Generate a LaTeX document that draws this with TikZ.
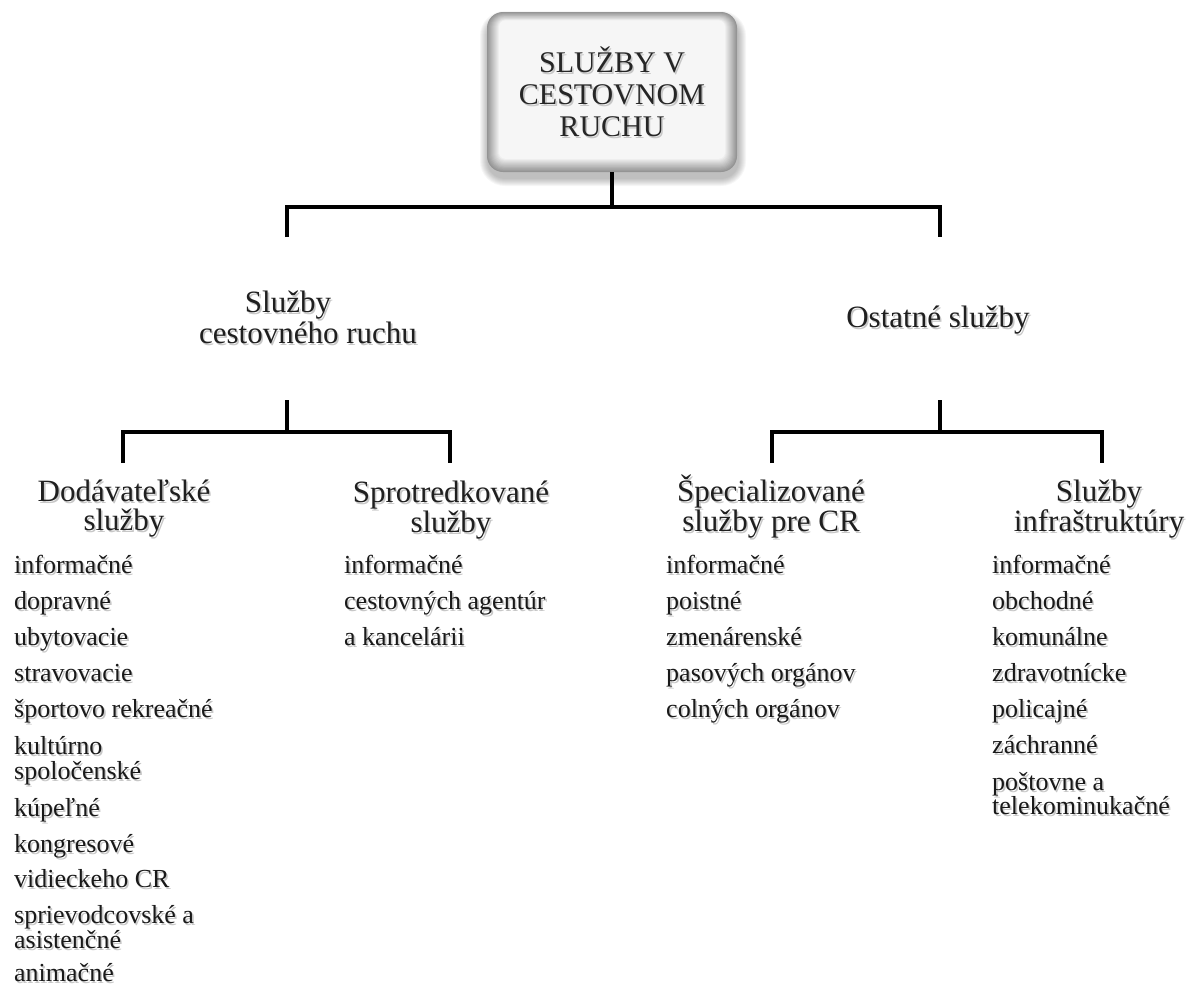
\documentclass[tikz,border=0pt]{standalone}
\usepackage{fontspec}
\setmainfont{Liberation Serif}
% two stacked lines with a fixed baseline distance; the first line is the baseline
\newcommand\stackleft[3]{\vtop{\baselineskip=#1\lineskiplimit=-100pt\lineskip=0pt
  \halign{##\hfil\cr #2\cr #3\cr}}}
\newcommand\stackmid[3]{\vtop{\baselineskip=#1\lineskiplimit=-100pt\lineskip=0pt
  \halign{\hfil##\hfil\cr #2\cr #3\cr}}}
\begin{document}
\begin{tikzpicture}[x=1pt,y=-1pt,
  conn/.style={line width=4pt, black},
  titletext/.style={font=\fontsize{30}{33}\selectfont, anchor=base, inner sep=0pt, text=black!85},
  headtext/.style={font=\fontsize{31}{31}\selectfont, anchor=base, inner sep=0pt, text=black!88},
  itemtext/.style={font=\fontsize{26}{24}\selectfont, anchor=base west, inner sep=0pt, text=black!90}]
\useasboundingbox (0,0) rectangle (1203,988);

% text with a soft grey drop shadow
\newcommand\shtext[4]{%
  \node[#3, text=black!22, xshift=1.6pt, yshift=-2pt] at #2 {#4};
  \node[#3] (#1) at #2 {#4};}

% ---- root box: soft shadow, bevelled grey frame, white face
\foreach \i in {0,...,7}{
  \pgfmathsetmacro\r{18+\i}
  \fill[black, opacity=0.035, rounded corners=\r pt]
    (487-\i,18-\i) rectangle (739+\i,179+\i);
}
\foreach \i in {0,...,12}{
  \pgfmathsetmacro\c{42-3.2*\i}
  \pgfmathsetmacro\r{16-0.8*\i}
  \fill[black!\c!white, rounded corners=\r pt]
    (487+\i,12+0.7*\i) rectangle (737-\i,172-1.1*\i);
}
\node[minimum width=250pt, minimum height=160pt, inner sep=0pt] (root) at (612,92) {};
\shtext{t1}{(612,72)}{titletext}{SLUŽBY V}
\shtext{t2}{(612,104)}{titletext}{CESTOVNOM}
\shtext{t3}{(612,136)}{titletext}{RUCHU}

% ---- first level connectors
\coordinate (hub0) at (612,207);
\coordinate (a1) at (287,237);
\coordinate (a2) at (940,237);
\draw[conn] (root.south) -- (hub0);
\draw[conn] (a1) -- (a1 |- hub0) -- (a2 |- hub0) -- (a2);

% ---- first level labels
\shtext{h1a}{(288,312)}{headtext}{Služby}
\shtext{h1b}{(308,343)}{headtext}{cestovného ruchu}
\shtext{h2}{(938,327)}{headtext}{Ostatné služby}

% ---- second level connectors
\coordinate (b0) at (287,400);
\coordinate (hubL) at (287,432);
\coordinate (b1) at (123,463);
\coordinate (b2) at (450,463);
\draw[conn] (b0) -- (hubL);
\draw[conn] (b1) -- (b1 |- hubL) -- (b2 |- hubL) -- (b2);

\coordinate (c0) at (940,400);
\coordinate (hubR) at (940,432);
\coordinate (c1) at (772,463);
\coordinate (c2) at (1102,463);
\draw[conn] (c0) -- (hubR);
\draw[conn] (c1) -- (c1 |- hubR) -- (c2 |- hubR) -- (c2);

% ---- second level labels
\shtext{g1}{(124,501)}{headtext}{\stackmid{29pt}{Dodávateľské}{služby}}
\shtext{g2}{(451,502)}{headtext}{\stackmid{30pt}{Sprotredkované}{služby}}
\shtext{g3}{(771,501)}{headtext}{\stackmid{30pt}{Špecializované}{služby pre CR}}
\shtext{g4}{(1099,501)}{headtext}{\stackmid{30pt}{Služby}{infraštruktúry}}

% ---- lists
\shtext{l1}{(14,573)}{itemtext}{informačné}
\shtext{l2}{(14,609)}{itemtext}{dopravné}
\shtext{l3}{(14,645)}{itemtext}{ubytovacie}
\shtext{l4}{(14,681)}{itemtext}{stravovacie}
\shtext{l5}{(14,717)}{itemtext}{športovo rekreačné}
\shtext{l6}{(14,754)}{itemtext}{\stackleft{25pt}{kultúrno}{spoločenské}}
\shtext{l7}{(14,816)}{itemtext}{kúpeľné}
\shtext{l8}{(14,852)}{itemtext}{kongresové}
\shtext{l9}{(14,887)}{itemtext}{vidieckeho CR}
\shtext{l10}{(14,923)}{itemtext}{\stackleft{25pt}{sprievodcovské a}{asistenčné}}
\shtext{l11}{(14,981)}{itemtext}{animačné}

\shtext{m1}{(344,573)}{itemtext}{informačné}
\shtext{m2}{(344,609)}{itemtext}{cestovných agentúr}
\shtext{m3}{(344,645)}{itemtext}{a kancelárii}

\shtext{r1}{(666,573)}{itemtext}{informačné}
\shtext{r2}{(666,609)}{itemtext}{poistné}
\shtext{r3}{(666,645)}{itemtext}{zmenárenské}
\shtext{r4}{(666,681)}{itemtext}{pasových orgánov}
\shtext{r5}{(666,717)}{itemtext}{colných orgánov}

\shtext{s1}{(992,573)}{itemtext}{informačné}
\shtext{s2}{(992,609)}{itemtext}{obchodné}
\shtext{s3}{(992,645)}{itemtext}{komunálne}
\shtext{s4}{(992,681)}{itemtext}{zdravotnícke}
\shtext{s5}{(992,717)}{itemtext}{policajné}
\shtext{s6}{(992,753)}{itemtext}{záchranné}
\shtext{s7}{(992,790)}{itemtext}{\stackleft{24pt}{poštovne a}{telekominukačné}}
\end{tikzpicture}
\end{document}
